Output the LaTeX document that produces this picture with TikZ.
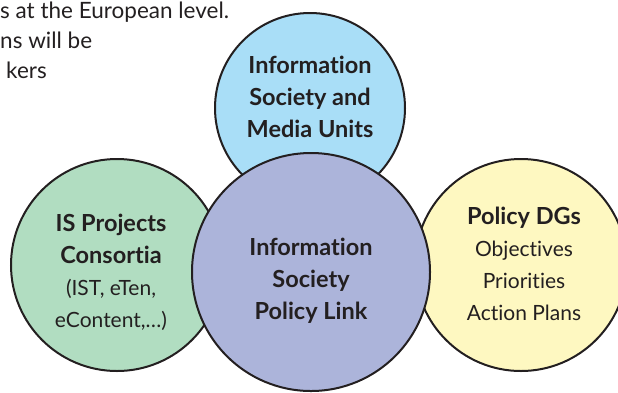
\documentclass[tikz,border=0pt]{standalone}
\usepackage{fontspec}
\setmainfont{Lato}[Ligatures=NoCommon]
\definecolor{ink}{HTML}{231F20}
\definecolor{mediablue}{HTML}{A9DEF7}
\definecolor{projgreen}{HTML}{B1DDC1}
\definecolor{dgyellow}{HTML}{FEF8C1}
\definecolor{linkpurple}{HTML}{ACB4DA}
\newcommand{\headfont}{\bfseries\fontsize{23.5}{32}\selectfont}
\tikzset{
  bubble/.style={circle, draw=ink, line width=2pt, inner sep=0pt},
  bubbletext/.style={font=\fontsize{21}{32}\selectfont, text=ink, align=center},
  introtext/.style={font=\fontsize{22.5}{32}\selectfont, text=ink, anchor=base west, inner sep=0pt}
}

\begin{document}
\begin{tikzpicture}[x=1pt,y=-1pt]
\useasboundingbox (0,0) rectangle (618,392);
\clip (0,0) rectangle (618,392);

% running text cut at the left margin
\node[introtext] (intro1) at (0,18) {s at the European level.};
\node[introtext] (intro2) at (0,48) {ns will be};
\node[introtext] (intro3) at (6,78) {kers};

% outer circles first, the link circle on top
\node[bubble, fill=mediablue, minimum size=190pt] (media) at (310,108) {};
\node[bubble, fill=projgreen, minimum size=212pt] (projects) at (117,265) {};
\node[bubble, fill=dgyellow, minimum size=212pt] (dgs) at (521,265) {};
\node[bubble, fill=linkpurple, minimum size=238pt] (link) at (311,272) {};

\node[bubbletext] (mediatext) at ([yshift=11pt]media.center)
  {{\headfont Information}\\{\headfont Society and}\\{\headfont Media Units}};
\node[bubbletext] (projectstext) at ([xshift=-6pt,yshift=-7pt]projects.center)
  {{\headfont IS Projects}\\{\headfont Consortia}\\(IST, eTen,\\eContent,…)};
\node[bubbletext] (dgstext) at ([xshift=3pt,yshift=1pt]dgs.center)
  {{\headfont Policy DGs}\\Objectives\\Priorities\\Action Plans};
\node[bubbletext] (linktext) at ([yshift=-9pt]link.center)
  {{\headfont Information}\\{\headfont Society}\\{\headfont Policy Link}};

\end{tikzpicture}
\end{document}
